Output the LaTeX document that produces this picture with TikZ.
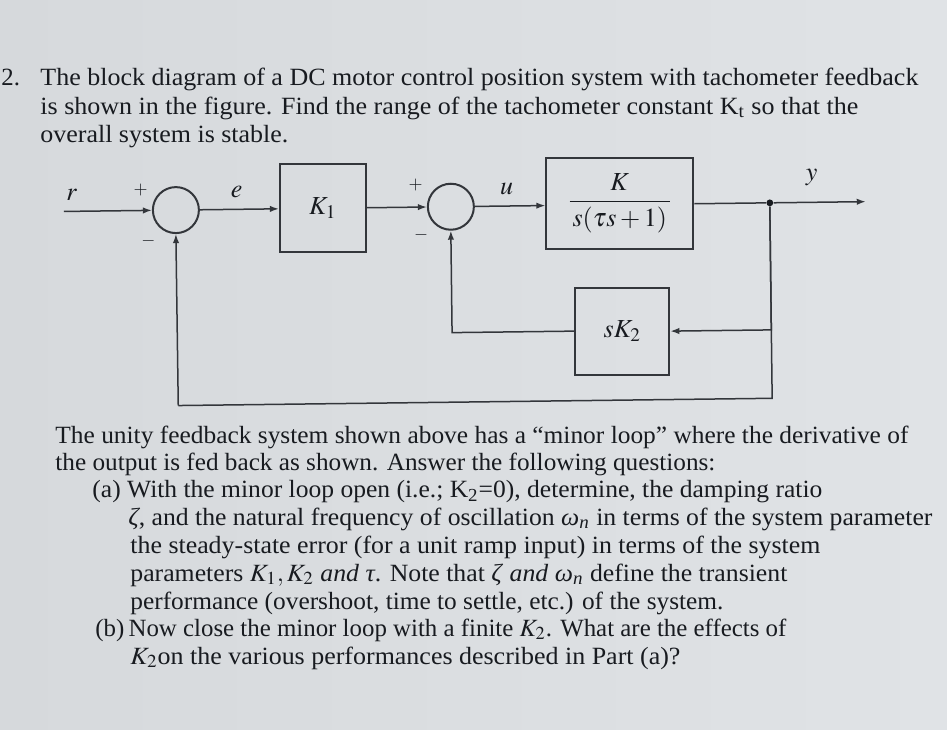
\documentclass[tikz,border=0pt]{standalone}
\usepackage{mathptmx}
\usepackage{fontspec}
\setmainfont{Liberation Serif}
\usepackage{graphicx}
\usetikzlibrary{arrows.meta}

\definecolor{paper}{HTML}{E0E3E6}
\definecolor{paperdark}{HTML}{D6D9DC}
\definecolor{ink}{HTML}{181B20}
\definecolor{wirecol}{HTML}{33363B}

% stretch one printed line to the width it has in the photo
\newcommand{\fitline}[2]{\resizebox{#1}{\height}{#2}}
% greek letters of the text, set in the text font
\newcommand{\zt}{\textit{ζ}}
\newcommand{\wn}{\textit{ω}\textsubscript{\textit{n}}}

\tikzset{
  txt/.style={anchor=base west,inner sep=0pt,text=ink,font=\fontsize{12.4}{14}\selectfont},
  blk/.style={draw=wirecol,line width=1pt,inner sep=0pt,text=ink,font=\fontsize{13}{15}\selectfont},
  sumc/.style={draw=wirecol,line width=1pt,circle,minimum size=23pt,inner sep=0pt},
  tapdot/.style={circle,fill=ink,inner sep=0pt,minimum size=3.4pt},
  wire/.style={draw=wirecol,line width=0.75pt},
  sig/.style={wire,-{Latex[length=4.5pt,width=3.2pt]}},
  lbl/.style={text=ink,inner sep=0pt,font=\fontsize{13}{15}\selectfont},
  sgn/.style={text=ink,inner sep=0pt,font=\fontsize{9}{11}\selectfont}
}

\begin{document}
\begin{tikzpicture}[x=0.5pt,y=-0.5pt]
  \shade[left color=paperdark,right color=paper] (0,0) rectangle (947,729);
  \useasboundingbox (0,0) rectangle (947,729);

  % question
  \node[txt] (qnum) at (1,85) {2.};
  \node[txt] (q1) at (40,85) {\fitline{439pt}{The block diagram of a DC motor control position system with tachometer feedback}};
  \node[txt] (q2) at (40,114) {\fitline{409pt}{is shown in the figure. Find the range of the tachometer constant K\textsubscript{t} so that the}};
  \node[txt] (q3) at (40,142) {\fitline{124pt}{overall system is stable.}};

  % block diagram (the photo is turned a little)
  \begin{scope}[rotate around={0.7:(470,300)}]
  \coordinate (rin) at (65,206.5);
  \node[sumc] (s1) at (177,206.5) {};
  \node[blk,minimum width=43pt,minimum height=44pt] (k1) at (324,206.5) {$K_1$};
  \node[sumc] (s2) at (452,206.5) {};
  \node[blk,minimum width=73.5pt,minimum height=45.5pt] (plant) at (621,205) {$\displaystyle\frac{K}{\,s(\tau s+1)\,}$};
  \node[tapdot] (tap) at (771,206.5) {};
  \coordinate (yout) at (867,206.5);
  \node[blk,minimum width=47pt,minimum height=43.5pt] (tach) at (622,333) {$sK_2$};
  \coordinate (bl) at (177,402);
  \coordinate (br) at (771,402);

  \draw[sig] (rin) -- (s1);
  \draw[sig] (s1) -- (k1);
  \draw[sig] (k1) -- (s2);
  \draw[sig] (s2) -- (plant.west |- s2);
  \draw[wire] (plant.east |- tap) -- (tap);
  \draw[sig] (tap) -- (yout);
  \draw[sig] (tap) |- (tach.east);
  \draw[sig] (tach.west) -| (s2.south);
  \draw[wire] (tap) -- (br) -- (bl);
  \draw[sig] (bl) -- (s1.south);

  \node[lbl] (rlab) at (73,190) {$r$};
  \node[sgn] (s1p) at (142,186) {$+$};
  \node[sgn] (s1m) at (149,237) {$-$};
  \node[lbl] (elab) at (238,189) {$e$};
  \node[sgn] (s2p) at (417,184) {$+$};
  \node[sgn] (s2m) at (422,234) {$-$};
  \node[lbl] (ulab) at (508,189) {$u$};
  \node[lbl] (ylab) at (813,182) {$y$};
  \end{scope}

  % questions below the figure
  \node[txt] (p1) at (55,443) {\fitline{426.5pt}{The unity feedback system shown above has a “minor loop” where the derivative of}};
  \node[txt] (p2) at (55,470) {\fitline{330pt}{the output is fed back as shown. Answer the following questions:}};
  \node[txt] (p3) at (92,497.5) {\fitline{365pt}{(a) With the minor loop open (i.e.; K\textsubscript{2}=0), determine, the damping ratio}};
  \node[txt] (p4) at (128,525) {\fitline{402pt}{\zt, and the natural frequency of oscillation \wn{} in terms of the system parameter}};
  \node[txt] (p5) at (130,553) {\fitline{345pt}{the steady-state error (for a unit ramp input) in terms of the system}};
  \node[txt] (p6) at (130,581) {\fitline{328.5pt}{parameters $K_1, K_2$ \textit{and} \textit{τ}. Note that \zt{} \textit{and} \wn{} define the transient}};
  \node[txt] (p7) at (130,609) {\fitline{296.5pt}{performance (overshoot, time to settle, etc.) of the system.}};
  \node[txt] (p8) at (95,636) {\fitline{345.5pt}{(b)\,Now close the minor loop with a finite $K_2$. What are the effects of}};
  \node[txt] (p9) at (130,664) {\fitline{275pt}{$K_2$on the various performances described in Part (a)?}};
\end{tikzpicture}
\end{document}
